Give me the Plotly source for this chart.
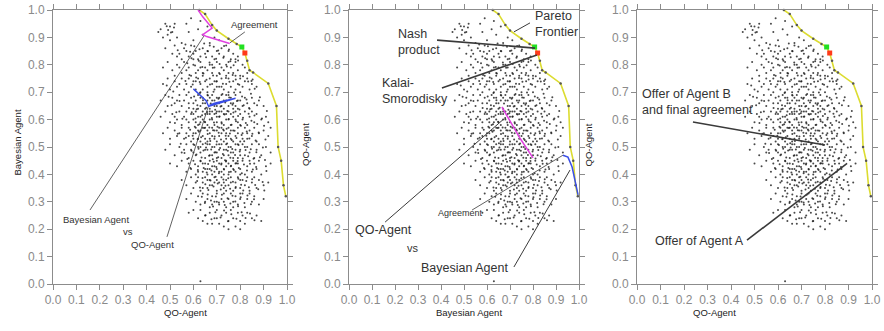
import plotly.graph_objects as go

# ---------------- data ----------------
tick_values = [0.0, 0.1, 0.2, 0.3, 0.4, 0.5, 0.6, 0.7, 0.8, 0.9, 1.0]
tick_labels = ["0.0", "0.1", "0.2", "0.3", "0.4", "0.5", "0.6", "0.7", "0.8", "0.9", "1.0"]

# Pareto frontier (x, y)
frontier_x = [0.625, 0.65, 0.68, 0.70, 0.75, 0.785, 0.807, 0.82, 0.83, 0.84, 0.855, 0.92, 0.955, 0.962, 0.975, 0.985, 0.995]
frontier_y = [1.0, 0.985, 0.945, 0.925, 0.895, 0.876, 0.865, 0.843, 0.815, 0.78, 0.772, 0.732, 0.65, 0.5, 0.45, 0.36, 0.32]

nash_point = (0.807, 0.865)
kalai_point = (0.82, 0.843)

# Negotiation traces, panel 1 (Bayesian Agent vs QO-Agent)
p1_magenta_x = [0.62, 0.64, 0.68, 0.64, 0.657, 0.755]
p1_magenta_y = [1.0, 0.975, 0.934, 0.91, 0.903, 0.878]
p1_blue_x = [0.60, 0.655, 0.665, 0.72, 0.78, 0.69, 0.668]
p1_blue_y = [0.712, 0.668, 0.648, 0.663, 0.678, 0.66, 0.652]

# Negotiation traces, panel 2 (QO-Agent vs Bayesian Agent)
p2_magenta_x = [0.665, 0.69, 0.70, 0.745, 0.80]
p2_magenta_y = [0.646, 0.61, 0.60, 0.53, 0.46]
p2_blue_x = [0.93, 0.952, 0.97, 0.983, 0.996]
p2_blue_y = [0.47, 0.463, 0.427, 0.37, 0.325]

# All possible offers (outcome space)
offer_cloud = [
    (0.46,0.93),(0.48,0.95),(0.49,0.91),(0.50,0.94),(0.51,0.92),(0.47,0.90),(0.52,0.95),(0.53,0.90),(0.45,0.92),(0.50,0.89),
    (0.57,0.95),(0.59,0.97),(0.58,0.92),(0.62,0.93),(0.64,0.91),(0.66,0.94),(0.60,0.89),(0.69,0.90),(0.55,0.88),(0.63,0.96),
    (0.67,0.88),(0.71,0.89),
    (0.48,0.86),(0.52,0.87),(0.54,0.84),(0.56,0.86),(0.58,0.83),(0.59,0.87),(0.61,0.85),(0.62,0.82),(0.64,0.86),(0.65,0.84),
    (0.67,0.87),(0.68,0.83),(0.70,0.85),(0.72,0.86),(0.73,0.83),(0.75,0.85),(0.77,0.84),(0.78,0.82),(0.55,0.82),(0.60,0.84),
    (0.63,0.83),(0.66,0.85),(0.69,0.82),(0.71,0.84),(0.74,0.87),(0.76,0.82),(0.57,0.85),(0.53,0.83),(0.79,0.83),(0.51,0.84),
    (0.47,0.79),(0.49,0.81),(0.51,0.78),(0.53,0.80),(0.55,0.77),(0.56,0.81),(0.58,0.79),(0.59,0.76),(0.60,0.80),(0.62,0.78),
    (0.63,0.81),(0.64,0.77),(0.65,0.79),(0.67,0.80),(0.68,0.77),(0.69,0.79),(0.70,0.81),(0.71,0.77),(0.72,0.79),(0.74,0.80),
    (0.75,0.77),(0.76,0.79),(0.78,0.81),(0.79,0.78),(0.80,0.76),(0.82,0.79),(0.83,0.77),(0.54,0.79),(0.57,0.78),(0.61,0.77),
    (0.66,0.78),(0.73,0.78),(0.77,0.77),(0.81,0.80),(0.52,0.76),(0.63,0.79),(0.70,0.76),(0.60,0.82),(0.68,0.80),(0.75,0.81),
    (0.47,0.73),(0.49,0.75),(0.50,0.71),(0.52,0.74),(0.53,0.72),(0.55,0.75),(0.56,0.71),(0.57,0.73),(0.58,0.75),(0.59,0.72),
    (0.60,0.74),(0.61,0.71),(0.62,0.75),(0.63,0.73),(0.64,0.71),(0.65,0.74),(0.66,0.72),(0.67,0.75),(0.68,0.73),(0.69,0.71),
    (0.70,0.74),(0.71,0.72),(0.72,0.75),(0.73,0.71),(0.74,0.73),(0.75,0.75),(0.76,0.72),(0.77,0.74),(0.78,0.71),(0.79,0.73),
    (0.80,0.75),(0.81,0.72),(0.82,0.74),(0.84,0.71),(0.85,0.73),(0.87,0.72),(0.54,0.73),(0.61,0.74),(0.64,0.76),(0.66,0.70),
    (0.69,0.74),(0.72,0.72),(0.75,0.70),(0.78,0.76),(0.83,0.75),(0.58,0.70),(0.63,0.70),(0.70,0.72),(0.74,0.76),(0.80,0.70),
    (0.46,0.67),(0.48,0.69),(0.49,0.65),(0.51,0.68),(0.52,0.66),(0.54,0.69),(0.55,0.65),(0.56,0.67),(0.57,0.69),(0.58,0.66),
    (0.59,0.68),(0.60,0.64),(0.61,0.67),(0.62,0.69),(0.63,0.65),(0.64,0.68),(0.65,0.66),(0.66,0.69),(0.67,0.64),(0.68,0.67),
    (0.69,0.65),(0.70,0.68),(0.71,0.66),(0.72,0.69),(0.73,0.64),(0.74,0.67),(0.75,0.65),(0.76,0.68),(0.77,0.66),(0.78,0.69),
    (0.79,0.64),(0.80,0.67),(0.81,0.65),(0.82,0.68),(0.83,0.66),(0.84,0.64),(0.85,0.68),(0.86,0.66),(0.88,0.67),(0.90,0.65),
    (0.53,0.67),(0.60,0.66),(0.62,0.64),(0.64,0.66),(0.66,0.67),(0.68,0.69),(0.70,0.65),(0.71,0.68),(0.73,0.67),(0.75,0.69),
    (0.77,0.64),(0.79,0.67),(0.65,0.64),(0.67,0.68),(0.69,0.67),(0.72,0.65),(0.74,0.69),(0.76,0.66),(0.78,0.65),(0.63,0.68),
    (0.46,0.61),(0.48,0.63),(0.50,0.59),(0.51,0.62),(0.53,0.60),(0.54,0.63),(0.55,0.58),(0.56,0.61),(0.57,0.63),(0.58,0.59),
    (0.59,0.62),(0.60,0.60),(0.61,0.63),(0.62,0.58),(0.63,0.61),(0.64,0.63),(0.65,0.59),(0.66,0.62),(0.67,0.60),(0.68,0.63),
    (0.69,0.58),(0.70,0.61),(0.71,0.63),(0.72,0.59),(0.73,0.62),(0.74,0.60),(0.75,0.63),(0.76,0.58),(0.77,0.61),(0.78,0.63),
    (0.79,0.59),(0.80,0.62),(0.81,0.60),(0.82,0.63),(0.83,0.58),(0.84,0.61),(0.85,0.63),(0.86,0.59),(0.87,0.62),(0.89,0.60),
    (0.91,0.61),(0.92,0.59),(0.52,0.61),(0.57,0.60),(0.60,0.62),(0.62,0.61),(0.63,0.59),(0.65,0.62),(0.66,0.58),(0.67,0.63),
    (0.68,0.60),(0.69,0.62),(0.70,0.59),(0.71,0.61),(0.72,0.63),(0.73,0.58),(0.74,0.62),(0.75,0.60),(0.76,0.62),(0.78,0.60),
    (0.80,0.58),(0.64,0.60),(0.61,0.59),(0.67,0.62),(0.70,0.63),
    (0.47,0.55),(0.49,0.57),(0.50,0.53),(0.52,0.56),(0.53,0.54),(0.55,0.57),(0.56,0.53),(0.57,0.55),(0.58,0.57),(0.59,0.52),
    (0.60,0.55),(0.61,0.57),(0.62,0.53),(0.63,0.56),(0.64,0.54),(0.65,0.57),(0.66,0.52),(0.67,0.55),(0.68,0.57),(0.69,0.53),
    (0.70,0.56),(0.71,0.54),(0.72,0.57),(0.73,0.52),(0.74,0.55),(0.75,0.57),(0.76,0.53),(0.77,0.56),(0.78,0.54),(0.79,0.57),
    (0.80,0.52),(0.81,0.55),(0.82,0.57),(0.83,0.53),(0.84,0.56),(0.85,0.54),(0.86,0.57),(0.87,0.52),(0.88,0.55),(0.90,0.56),
    (0.92,0.54),(0.93,0.57),(0.54,0.55),(0.58,0.54),(0.60,0.53),(0.62,0.56),(0.64,0.57),(0.65,0.53),(0.66,0.56),(0.67,0.53),
    (0.68,0.54),(0.69,0.56),(0.70,0.52),(0.71,0.57),(0.72,0.55),(0.73,0.56),(0.74,0.53),(0.75,0.54),(0.76,0.56),(0.77,0.52),
    (0.79,0.55),(0.81,0.53),(0.83,0.55),(0.63,0.52),(0.61,0.55),
    (0.48,0.49),(0.50,0.51),(0.52,0.47),(0.54,0.50),(0.55,0.48),(0.57,0.51),(0.58,0.46),(0.59,0.49),(0.60,0.51),(0.61,0.47),
    (0.62,0.50),(0.63,0.48),(0.64,0.51),(0.65,0.46),(0.66,0.49),(0.67,0.51),(0.68,0.47),(0.69,0.50),(0.70,0.48),(0.71,0.51),
    (0.72,0.46),(0.73,0.49),(0.74,0.51),(0.75,0.47),(0.76,0.50),(0.77,0.48),(0.78,0.51),(0.79,0.46),(0.80,0.49),(0.81,0.51),
    (0.82,0.47),(0.83,0.50),(0.84,0.48),(0.85,0.51),(0.86,0.46),(0.87,0.49),(0.88,0.51),(0.89,0.47),(0.91,0.50),(0.93,0.48),
    (0.56,0.49),(0.60,0.48),(0.63,0.50),(0.65,0.49),(0.67,0.47),(0.68,0.50),(0.70,0.46),(0.71,0.49),(0.72,0.51),(0.73,0.47),
    (0.74,0.49),(0.76,0.48),(0.77,0.46),(0.78,0.49),(0.80,0.47),(0.82,0.50),(0.66,0.51),(0.69,0.48),(0.75,0.50),(0.79,0.51),
    (0.50,0.44),(0.53,0.43),(0.55,0.45),(0.57,0.41),(0.58,0.44),(0.59,0.42),(0.60,0.45),(0.61,0.40),(0.62,0.43),(0.63,0.45),
    (0.64,0.41),(0.65,0.44),(0.66,0.42),(0.67,0.45),(0.68,0.40),(0.69,0.43),(0.70,0.45),(0.71,0.41),(0.72,0.44),(0.73,0.42),
    (0.74,0.45),(0.75,0.40),(0.76,0.43),(0.77,0.45),(0.78,0.41),(0.79,0.44),(0.80,0.42),(0.81,0.45),(0.82,0.40),(0.83,0.43),
    (0.84,0.45),(0.85,0.41),(0.86,0.44),(0.87,0.42),(0.88,0.45),(0.89,0.40),(0.91,0.43),(0.93,0.44),(0.62,0.41),(0.64,0.44),
    (0.66,0.40),(0.68,0.43),(0.70,0.42),(0.72,0.41),(0.74,0.43),(0.76,0.41),(0.78,0.44),(0.80,0.40),(0.71,0.44),(0.73,0.40),
    (0.75,0.44),(0.69,0.41),(0.67,0.42),(0.77,0.42),(0.65,0.42),
    (0.55,0.38),(0.57,0.36),(0.59,0.39),(0.60,0.35),(0.61,0.37),(0.62,0.39),(0.63,0.34),(0.64,0.37),(0.65,0.39),(0.66,0.35),
    (0.67,0.38),(0.68,0.36),(0.69,0.39),(0.70,0.34),(0.71,0.37),(0.72,0.39),(0.73,0.35),(0.74,0.38),(0.75,0.36),(0.76,0.39),
    (0.77,0.34),(0.78,0.37),(0.79,0.39),(0.80,0.35),(0.81,0.38),(0.82,0.36),(0.83,0.39),(0.84,0.34),(0.85,0.37),(0.86,0.39),
    (0.87,0.35),(0.88,0.38),(0.90,0.36),(0.92,0.37),(0.64,0.35),(0.67,0.36),(0.70,0.38),(0.72,0.36),(0.74,0.34),(0.76,0.37),
    (0.78,0.35),(0.80,0.38),(0.69,0.37),(0.73,0.37),(0.66,0.38),
    (0.57,0.31),(0.59,0.33),(0.61,0.30),(0.62,0.32),(0.63,0.29),(0.64,0.33),(0.66,0.31),(0.67,0.28),(0.68,0.32),(0.69,0.30),
    (0.70,0.33),(0.71,0.29),(0.72,0.31),(0.73,0.33),(0.74,0.28),(0.75,0.31),(0.76,0.33),(0.77,0.30),(0.78,0.32),(0.79,0.29),
    (0.80,0.31),(0.81,0.33),(0.82,0.28),(0.83,0.31),(0.84,0.33),(0.85,0.30),(0.86,0.32),(0.88,0.29),(0.90,0.31),(0.65,0.30),
    (0.70,0.30),(0.73,0.30),(0.77,0.28),(0.80,0.33),(0.68,0.29),
    (0.58,0.26),(0.60,0.27),(0.62,0.24),(0.63,0.27),(0.65,0.25),(0.66,0.22),(0.67,0.26),(0.69,0.24),(0.70,0.27),(0.71,0.22),
    (0.72,0.25),(0.73,0.21),(0.74,0.26),(0.75,0.23),(0.76,0.27),(0.77,0.24),(0.78,0.21),(0.79,0.26),(0.80,0.23),(0.81,0.25),
    (0.82,0.22),(0.83,0.26),(0.85,0.24),(0.87,0.25),(0.89,0.23),(0.68,0.22),(0.75,0.20),(0.64,0.23),(0.80,0.20),(0.70,0.24),
    (0.63,0.01),
]

offer_cloud_core = [
    (0.603,0.684),(0.617,0.652),(0.628,0.697),(0.641,0.671),(0.655,0.643),(0.662,0.688),(0.674,0.659),(0.686,0.702),(0.693,0.636),(0.707,0.676),
    (0.716,0.648),(0.724,0.693),(0.736,0.662),(0.745,0.631),(0.753,0.681),(0.767,0.654),(0.774,0.699),(0.786,0.668),(0.797,0.637),(0.808,0.684),
    (0.815,0.652),(0.827,0.673),(0.838,0.642),(0.846,0.694),(0.593,0.627),(0.609,0.604),(0.614,0.638),(0.626,0.583),(0.637,0.616),(0.648,0.592),
    (0.659,0.628),(0.668,0.571),(0.679,0.606),(0.688,0.589),(0.697,0.623),(0.703,0.574),(0.712,0.611),(0.721,0.586),(0.733,0.619),(0.742,0.567),
    (0.751,0.602),(0.763,0.581),(0.771,0.626),(0.782,0.594),(0.791,0.613),(0.803,0.578),(0.812,0.607),(0.824,0.588),(0.836,0.621),(0.848,0.596),
    (0.861,0.615),(0.873,0.584),(0.586,0.563),(0.597,0.541),(0.606,0.574),(0.618,0.528),(0.624,0.556),(0.633,0.536),(0.646,0.569),(0.652,0.514),
    (0.661,0.547),(0.672,0.522),(0.684,0.561),(0.691,0.538),(0.699,0.509),(0.708,0.552),(0.718,0.527),(0.727,0.564),(0.738,0.541),(0.744,0.513),
    (0.756,0.549),(0.764,0.526),(0.776,0.559),(0.784,0.533),(0.793,0.507),(0.806,0.544),(0.817,0.521),(0.828,0.557),(0.839,0.531),(0.852,0.548),
    (0.866,0.524),(0.879,0.553),(0.592,0.486),(0.604,0.507),(0.613,0.473),(0.622,0.494),(0.635,0.462),(0.643,0.487),(0.654,0.498),(0.667,0.468),
    (0.676,0.491),(0.683,0.455),(0.694,0.481),(0.706,0.463),(0.714,0.496),(0.726,0.474),(0.735,0.452),(0.747,0.486),(0.758,0.461),(0.766,0.493),
    (0.778,0.471),(0.789,0.449),(0.798,0.484),(0.811,0.458),(0.823,0.489),(0.834,0.466),(0.845,0.492),(0.857,0.457),(0.869,0.481),(0.884,0.463),
    (0.607,0.437),(0.619,0.416),(0.631,0.448),(0.644,0.423),(0.657,0.407),(0.663,0.438),(0.677,0.414),(0.687,0.446),(0.698,0.427),(0.709,0.404),
    (0.719,0.436),(0.731,0.418),(0.739,0.447),(0.752,0.409),(0.761,0.432),(0.773,0.416),(0.783,0.441),(0.794,0.423),(0.807,0.404),(0.816,0.436),
    (0.829,0.414),(0.842,0.439),(0.854,0.418),(0.868,0.427),(0.616,0.376),(0.628,0.352),(0.639,0.387),(0.651,0.364),(0.664,0.343),(0.673,0.378),
    (0.686,0.356),(0.695,0.391),(0.704,0.367),(0.717,0.345),(0.728,0.381),(0.737,0.359),(0.749,0.386),(0.757,0.348),(0.769,0.373),(0.781,0.354),
    (0.792,0.384),(0.804,0.362),(0.813,0.341),(0.826,0.376),(0.837,0.353),(0.851,0.382),(0.864,0.361),(0.877,0.346),(0.636,0.318),(0.649,0.296),
    (0.661,0.327),(0.675,0.305),(0.684,0.283),(0.696,0.319),(0.709,0.297),(0.722,0.326),(0.734,0.288),(0.746,0.313),(0.758,0.294),(0.767,0.322),
    (0.779,0.301),(0.791,0.284),(0.802,0.317),(0.818,0.296),(0.831,0.323),(0.846,0.291),(0.859,0.309),(0.652,0.251),(0.677,0.236),(0.694,0.262),
    (0.716,0.243),(0.731,0.268),(0.748,0.229),(0.762,0.255),(0.784,0.238),(0.806,0.262),(0.823,0.241),(0.842,0.257),(0.861,0.233),
    (0.566,0.741),(0.583,0.763),(0.597,0.728),(0.612,0.754),(0.627,0.737),(0.643,0.768),(0.656,0.745),(0.671,0.728),(0.684,0.761),(0.698,0.739),
    (0.713,0.766),(0.726,0.731),(0.739,0.752),(0.754,0.738),(0.768,0.763),(0.781,0.746),(0.796,0.727),(0.812,0.758),(0.834,0.739),(0.853,0.746),
    (0.574,0.806),(0.592,0.824),(0.607,0.797),(0.623,0.815),(0.638,0.792),(0.654,0.828),(0.669,0.808),(0.683,0.789),(0.697,0.822),(0.712,0.803),
    (0.728,0.826),(0.743,0.794),(0.758,0.813),(0.772,0.798),(0.791,0.816),(0.533,0.853),(0.566,0.874),(0.586,0.848),(0.604,0.868),(0.626,0.857),
    (0.646,0.878),(0.662,0.849),(0.687,0.866),(0.706,0.852),(0.731,0.869),(0.752,0.856),(0.492,0.927),(0.504,0.918),(0.517,0.936),(0.486,0.941),
    (0.486,0.724),(0.494,0.683),(0.507,0.652),(0.514,0.703),(0.521,0.588),(0.527,0.627),(0.533,0.548),(0.541,0.668),(0.546,0.512),(0.553,0.603),
    (0.562,0.478),(0.568,0.534),(0.574,0.456),(0.581,0.642),(0.587,0.423),
    (0.893,0.604),(0.902,0.578),(0.908,0.527),(0.914,0.631),(0.897,0.498),(0.906,0.453),(0.912,0.412),(0.896,0.372),(0.903,0.341),(0.884,0.682),
    (0.872,0.652),(0.862,0.713),(0.848,0.741),
]

all_offers = offer_cloud + offer_cloud_core
cloud_x = [p[0] for p in all_offers]
cloud_y = [p[1] for p in all_offers]

x_titles = ["QO-Agent", "Bayesian Agent", "QO-Agent"]
y_titles = ["Bayesian Agent", "QO-Agent", "QO-Agent"]

# ---------------- layout constants ----------------
W, H = 884, 331
x_domains = [(53 / W, 287 / W), (349 / W, 579 / W), (637 / W, 872 / W)]
y_domain = (1 - 284 / H, 1 - 10 / H)

FONT = "Liberation Sans, Arial, sans-serif"
TICK_FONT = dict(family=FONT, size=12, color="#8a8a8a")
AXIS_GRAY = "#8c8c8c"

fig = go.Figure()


def ax_name(i, kind):
    return kind if i == 0 else f"{kind}{i + 1}"


for i in range(3):
    xa, ya = ax_name(i, "x"), ax_name(i, "y")
    fig.add_trace(go.Scatter(x=cloud_x, y=cloud_y, mode="markers", xaxis=xa, yaxis=ya,
                             marker=dict(size=2, color="#1a1a1a", opacity=0.8),
                             hoverinfo="skip", showlegend=False))
    fig.add_trace(go.Scatter(x=frontier_x, y=frontier_y, mode="lines+markers", xaxis=xa, yaxis=ya,
                             line=dict(color="#dcdc30", width=1.6),
                             marker=dict(size=2.5, color="#555"),
                             showlegend=False, cliponaxis=False))

fig.add_trace(go.Scatter(x=p1_magenta_x, y=p1_magenta_y, mode="lines", xaxis="x", yaxis="y",
                         line=dict(color="#e040e0", width=1.5), showlegend=False, cliponaxis=False))
fig.add_trace(go.Scatter(x=p1_blue_x, y=p1_blue_y, mode="lines", xaxis="x", yaxis="y",
                         line=dict(color="#3a4ee6", width=1.5), showlegend=False))
fig.add_trace(go.Scatter(x=p2_magenta_x, y=p2_magenta_y, mode="lines", xaxis="x2", yaxis="y2",
                         line=dict(color="#e040e0", width=1.5), showlegend=False))
fig.add_trace(go.Scatter(x=p2_blue_x, y=p2_blue_y, mode="lines", xaxis="x2", yaxis="y2",
                         line=dict(color="#3a4ee6", width=1.5), showlegend=False, cliponaxis=False))

for i in range(3):
    xa, ya = ax_name(i, "x"), ax_name(i, "y")
    fig.add_trace(go.Scatter(x=[nash_point[0]], y=[nash_point[1]], mode="markers", xaxis=xa, yaxis=ya,
                             marker=dict(size=5, color="#22e022", symbol="square"), showlegend=False))
    fig.add_trace(go.Scatter(x=[kalai_point[0]], y=[kalai_point[1]], mode="markers", xaxis=xa, yaxis=ya,
                             marker=dict(size=5, color="#ff3a1a", symbol="square"), showlegend=False))

layout = dict(width=W, height=H, margin=dict(l=0, r=0, t=0, b=0, autoexpand=False),
              paper_bgcolor="white", plot_bgcolor="white", showlegend=False, template="none")
for i in range(3):
    common = dict(range=[0, 1], tickvals=tick_values, ticktext=tick_labels, ticks="outside", ticklen=5,
                  tickcolor=AXIS_GRAY, showline=True, linecolor=AXIS_GRAY, linewidth=1, mirror="ticks",
                  showgrid=False, zeroline=False, tickfont=TICK_FONT, fixedrange=True, automargin=False)
    layout["xaxis" if i == 0 else f"xaxis{i + 1}"] = dict(common, domain=list(x_domains[i]),
                                                          anchor=ax_name(i, "y"))
    layout["yaxis" if i == 0 else f"yaxis{i + 1}"] = dict(common, domain=list(y_domain),
                                                          anchor=ax_name(i, "x"))
fig.update_layout(**layout)

# ---------------- callouts (text, position, leader line) ----------------
# (panel, text, x, y, xanchor, size, line_start, line_end, line_width)
callouts = [
    (0, "Agreement", 0.863, 0.947, "center", 9.5, (0.82, 0.92), (0.756, 0.88), 0.8),
    (0, "Bayesian Agent", 0.184, 0.235, "center", 9.5, (0.158, 0.27), (0.645, 0.905), 0.8),
    (0, "vs", 0.32, 0.19, "center", 9.5, None, None, 0),
    (0, "QO-Agent", 0.427, 0.144, "center", 9.5, (0.487, 0.172), (0.663, 0.646), 0.8),
    (1, "Pareto<br>Frontier", 0.80, 0.949, "left", 12.5, (0.787, 0.953), (0.717, 0.92), 1.0),
    (1, "Nash<br>product", 0.204, 0.883, "left", 12.5, (0.383, 0.89), (0.809, 0.861), 1.6),
    (1, "Kalai-<br>Smorodisky", 0.135, 0.704, "left", 12.5, (0.404, 0.715), (0.817, 0.836), 1.6),
    (1, "QO-Agent", 0.017, 0.197, "left", 12.5, (0.157, 0.226), (0.67, 0.60), 1.0),
    (1, "vs", 0.278, 0.131, "center", 11, None, None, 0),
    (1, "Bayesian Agent", 0.504, 0.058, "center", 12.5, (0.717, 0.062), (0.961, 0.416), 1.0),
    (1, "Agreement", 0.483, 0.26, "center", 9, (0.535, 0.27), (0.93, 0.47), 0.8),
    (2, "Offer of Agent B<br>and final agreement", 0.013, 0.664, "left", 12.5, (0.238, 0.591), (0.80, 0.507), 1.6),
    (2, "Offer of Agent A", 0.068, 0.157, "left", 12.5, (0.468, 0.16), (0.894, 0.44), 1.6),
]

for panel, text, tx, ty, xanc, size, ls, le, lw in callouts:
    xr, yr = ax_name(panel, "x"), ax_name(panel, "y")
    fig.add_annotation(x=tx, y=ty, xref=xr, yref=yr, text=text, showarrow=False, xanchor=xanc,
                       yanchor="middle", align="left", font=dict(family=FONT, size=size, color="#333"))
    if ls is not None:
        fig.add_shape(type="line", xref=xr, yref=yr, x0=ls[0], y0=ls[1], x1=le[0], y1=le[1],
                      line=dict(color="#3a3a3a", width=lw))

# axis titles
x_title_pos = [(162, 320), (469, 320), (738, 320)]
y_title_pos = [(9, 143), (305, 145), (595, 145)]
for i in range(3):
    px, py = x_title_pos[i]
    fig.add_annotation(x=px / W, y=1 - py / H, xref="paper", yref="paper", text=x_titles[i],
                       showarrow=False, font=dict(family=FONT, size=9.5, color="#222"))
    px, py = y_title_pos[i]
    fig.add_annotation(x=px / W, y=1 - py / H, xref="paper", yref="paper", text=y_titles[i],
                       showarrow=False, textangle=-90, font=dict(family=FONT, size=9.5, color="#222"))

fig.write_html("out.html", config={"displayModeBar": False},
               post_script="document.body.style.margin='0';document.body.style.padding='0';")
